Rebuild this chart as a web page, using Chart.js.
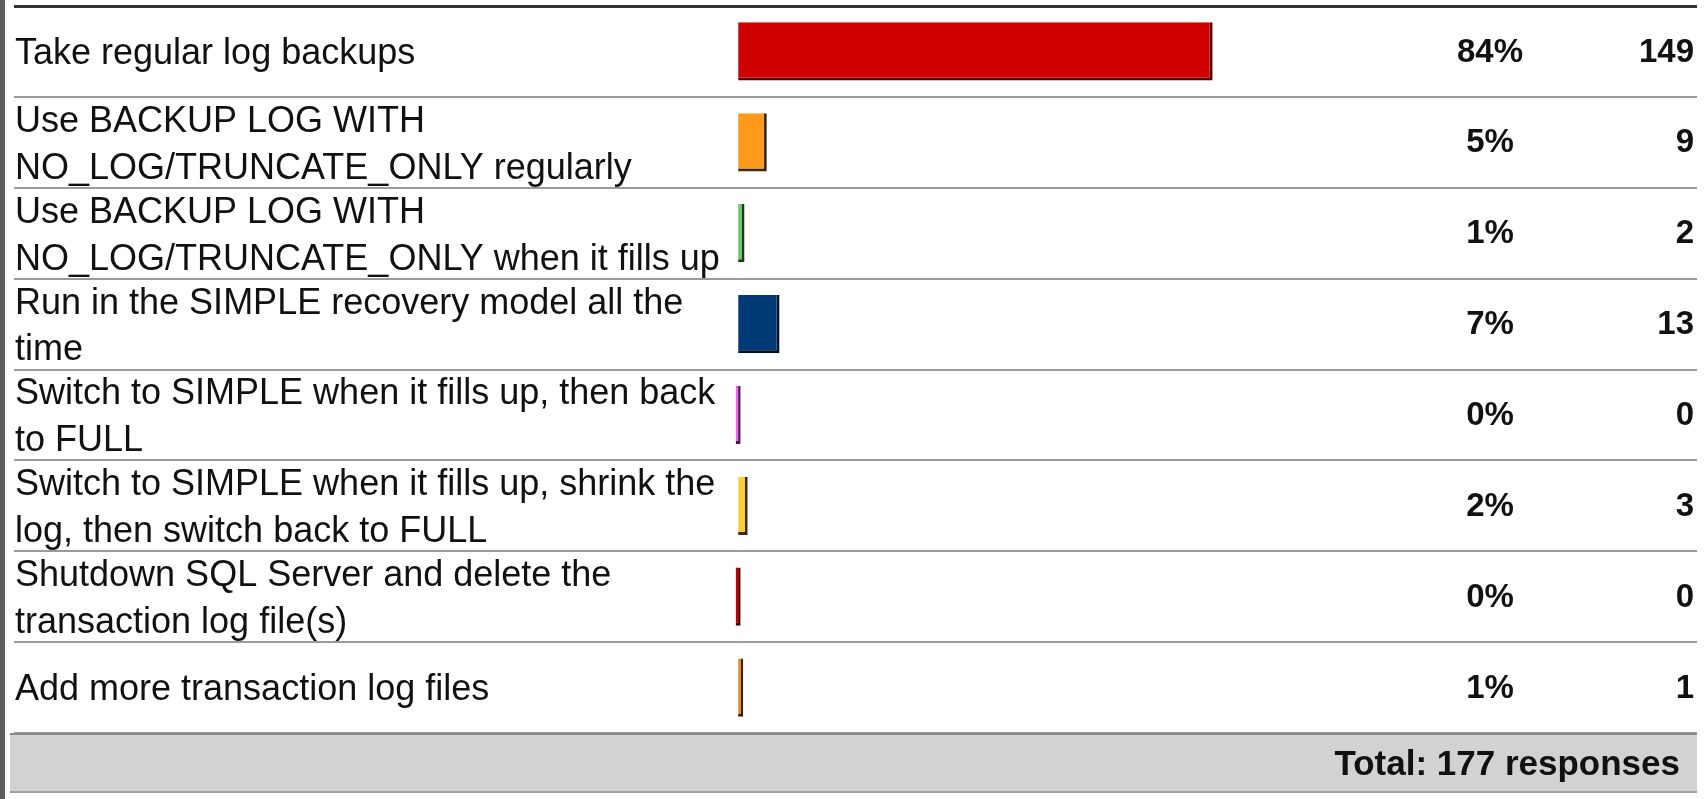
<!DOCTYPE html>
<html>
<head>
<meta charset="utf-8">
<title>Poll results</title>
<script src="https://cdn.jsdelivr.net/npm/chart.js@4.4.1/dist/chart.umd.min.js"></script>
<style>
    html, body { margin: 0; padding: 0; background: #fff; }
    #wrap { width: 1707px; height: 799px; position: relative; }
</style>
</head>
<body>
<div id="wrap"><canvas id="pollChart" width="1707" height="799"></canvas></div>
<script>
// Answers (line breaks as in the poll widget)
const answers = [
    ['Take regular log backups'],
    ['Use BACKUP LOG WITH', 'NO_LOG/TRUNCATE_ONLY regularly'],
    ['Use BACKUP LOG WITH', 'NO_LOG/TRUNCATE_ONLY when it fills up'],
    ['Run in the SIMPLE recovery model all the', 'time'],
    ['Switch to SIMPLE when it fills up, then back', 'to FULL'],
    ['Switch to SIMPLE when it fills up, shrink the', 'log, then switch back to FULL'],
    ['Shutdown SQL Server and delete the', 'transaction log file(s)'],
    ['Add more transaction log files']
];
const votes = [149, 9, 2, 13, 0, 3, 0, 1];
const percents = [84, 5, 1, 7, 0, 2, 0, 1];
const totalVotes = 177;

const barColors = ['#d00000', '#ff9a1a', '#66cc66', '#003a75', '#ee66ee', '#ffcc33', '#bb0000', '#ee8811'];
const shadowColors = ['#5a0000', '#3a2a10', '#1e3a1e', '#001225', '#4a1a4a', '#3a2e10', '#400000', '#3a2008'];

// Text columns, gray total row and the left frame
const pollColumns = {
    id: 'pollColumns',
    beforeDraw(chart) {
        const ctx = chart.ctx;
        ctx.save();
        ctx.fillStyle = '#5c5c5c';
        ctx.fillRect(0, 0, 5, chart.height);
        ctx.restore();
    },
    afterDraw(chart) {
        const ctx = chart.ctx;
        const y = chart.scales.y;
        const area = chart.chartArea;
        ctx.save();
        ctx.fillStyle = '#111';
        ctx.font = 'bold 33px "Liberation Sans", Arial, sans-serif';
        ctx.textBaseline = 'middle';
        votes.forEach((v, i) => {
            const py = y.getPixelForValue(i) + 1;
            ctx.textAlign = 'center';
            ctx.fillText(percents[i] + '%', 1490, py);
            ctx.textAlign = 'right';
            ctx.fillText(String(v), 1694, py);
        });

        // total row
        const top = area.bottom;
        ctx.fillStyle = '#d2d2d2';
        ctx.fillRect(area.left - 4, top, area.right - area.left + 4, 60);
        ctx.fillStyle = '#8a8a8a';
        ctx.fillRect(area.left - 4, top, area.right - area.left + 4, 2);
        ctx.fillStyle = '#a0a0a0';
        ctx.fillRect(area.left - 4, top + 58, area.right - area.left + 4, 2);
        ctx.fillStyle = '#111';
        ctx.textAlign = 'right';
        ctx.font = 'bold 35px "Liberation Sans", Arial, sans-serif';
        ctx.fillText('Total: ' + totalVotes + ' responses', 1680, top + 32);
        ctx.restore();
    }
};

document.addEventListener('DOMContentLoaded', function() {
    const ctx = document.getElementById('pollChart').getContext('2d');
    new Chart(ctx, {
        type: 'bar',
        data: {
            labels: answers,
            datasets: [{
                data: votes,
                backgroundColor: barColors,
                borderColor: shadowColors,
                borderWidth: { top: 0, left: 0, right: 3, bottom: 3 },
                borderSkipped: false,
                minBarLength: 5,
                categoryPercentage: 1,
                barPercentage: 0.64
            }]
        },
        options: {
            indexAxis: 'y',
            responsive: false,
            animation: false,
            layout: { padding: { left: 12, right: 10, top: 6, bottom: 66 } },
            plugins: {
                legend: { display: false },
                tooltip: { enabled: false }
            },
            scales: {
                x: {
                    display: false,
                    min: -227.4,
                    max: 301.1
                },
                y: {
                    // labels sit inside the rows, no extra room above/below
                    afterFit: (scale) => {
                        scale.paddingTop = 0;
                        scale.paddingBottom = 0;
                    },
                    grid: {
                        offset: true,
                        drawTicks: false,
                        color: (c) => c.index === 0 ? '#333' : '#9a9a9a',
                        lineWidth: (c) => c.index === 0 ? 3 : 2
                    },
                    border: { display: false },
                    ticks: {
                        mirror: true,
                        padding: 1,
                        labelOffset: 3,
                        autoSkip: false,
                        color: '#111',
                        font: { family: '"Liberation Sans", Arial, sans-serif', size: 36, lineHeight: 1.3 }
                    }
                }
            }
        },
        plugins: [pollColumns]
    });
});
</script>
</body>
</html>
